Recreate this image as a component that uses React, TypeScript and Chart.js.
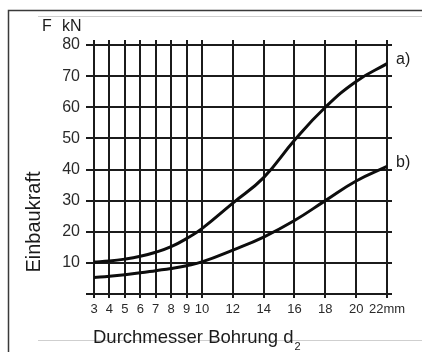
import React, { useEffect, useRef } from "react";
import { Chart, registerables } from "chart.js";

Chart.register(...registerables);

// ---- data ----
const BORE_SIZES = [3, 4, 5, 6, 7, 8, 9, 10, 12, 14, 16, 18, 20, 22];
const FORCE_A = [10.3, 10.6, 11.2, 12.1, 13.4, 15.2, 17.8, 21.0, 29.2, 37.4, 49.4, 60.0, 68.3, 74.0];
const FORCE_B = [5.3, 5.7, 6.2, 6.8, 7.5, 8.2, 9.1, 10.3, 14.1, 18.3, 23.6, 30.0, 36.3, 41.0];
const SERIES_LABELS = ["a)", "b)"];
const Y_TICKS = [0, 10, 20, 30, 40, 50, 60, 70, 80];
const X_UNIT = "mm";
const Y_UNIT_TEXT = ["F", "kN"];
const Y_TITLE = "Einbaukraft";
const X_TITLE = "Durchmesser Bohrung d";
const X_TITLE_SUB = "2";

const FONT = '"Liberation Sans", Arial, Helvetica, sans-serif';
const INK = "#1b1b1b";

const decorPlugin = {
  id: "decor",
  beforeDraw(chart: any) {
    const ctx = chart.ctx;
    ctx.save();
    ctx.fillStyle = "#ffffff";
    ctx.fillRect(0, 0, chart.width, chart.height);
    // frame
    ctx.strokeStyle = "#3a3a3a";
    ctx.lineWidth = 1.5;
    ctx.beginPath();
    ctx.moveTo(8.5, 352);
    ctx.lineTo(8.5, 10.5);
    ctx.lineTo(422, 10.5);
    ctx.stroke();
    ctx.strokeStyle = "#cfcfcf";
    ctx.lineWidth = 1;
    ctx.beginPath();
    ctx.moveTo(38, 16.5);
    ctx.lineTo(422, 16.5);
    ctx.moveTo(38, 340.5);
    ctx.lineTo(422, 340.5);
    ctx.stroke();
    ctx.restore();
  },
  afterDraw(chart: any) {
    const ctx = chart.ctx;
    const xs = chart.scales.x;
    const ys = chart.scales.y;
    ctx.save();
    ctx.fillStyle = INK;
    ctx.textAlign = "left";
    ctx.textBaseline = "alphabetic";
    ctx.font = `16px ${FONT}`;
    ctx.fillText(Y_UNIT_TEXT[0], 42, 31);
    ctx.fillText(Y_UNIT_TEXT[1], 62, 31);

    // series labels at the end of each curve
    const series = [FORCE_A, FORCE_B];
    ctx.font = `16px ${FONT}`;
    ctx.textBaseline = "middle";
    series.forEach((vals, i) => {
      const last = BORE_SIZES.length - 1;
      const px = xs.getPixelForValue(BORE_SIZES[last]) + 9;
      const py = ys.getPixelForValue(vals[last]) - 4;
      ctx.fillText(SERIES_LABELS[i], px, py);
    });

    // x title
    ctx.textBaseline = "alphabetic";
    ctx.font = `18.5px ${FONT}`;
    ctx.fillText(X_TITLE, 93, 343);
    const w = ctx.measureText(X_TITLE).width;
    ctx.font = `11px ${FONT}`;
    ctx.fillText(X_TITLE_SUB, 93 + w + 1, 350);

    // y title
    ctx.font = `20px ${FONT}`;
    ctx.translate(40, 222);
    ctx.rotate(-Math.PI / 2);
    ctx.textAlign = "center";
    ctx.fillText(Y_TITLE, 0, 0);
    ctx.restore();
  },
};

export default function App() {
  const ref = useRef<HTMLCanvasElement | null>(null);

  useEffect(() => {
    if (!ref.current) return;
    const xMin = BORE_SIZES[0];
    const xMax = BORE_SIZES[BORE_SIZES.length - 1];
    const yMin = Y_TICKS[0];
    const yMax = Y_TICKS[Y_TICKS.length - 1];
    const setXTicks = (s: any) => {
      s.ticks = BORE_SIZES.map((v) => ({ value: v }));
    };
    const setYTicks = (s: any) => {
      s.ticks = Y_TICKS.map((v) => ({ value: v }));
    };
    const grid = (tickLength: number, onArea: boolean) => ({
      color: INK,
      lineWidth: 2,
      drawOnChartArea: onArea,
      drawTicks: true,
      tickLength,
      tickColor: INK,
      tickWidth: 2,
    });
    const border = { display: true, color: INK, width: 2 };

    const chart = new Chart(ref.current, {
      type: "line",
      data: {
        datasets: [FORCE_A, FORCE_B].map((vals, i) => ({
          label: SERIES_LABELS[i],
          data: BORE_SIZES.map((x, j) => ({ x, y: vals[j] })),
          borderColor: "#0d0d0d",
          borderWidth: 3,
          pointRadius: 0,
          fill: false,
          tension: 0.45,
        })),
      },
      options: {
        animation: false,
        responsive: false,
        devicePixelRatio: 1,
        layout: { padding: 0 },
        plugins: {
          legend: { display: false },
          tooltip: { enabled: false },
        },
        scales: {
          x: {
            type: "linear",
            position: "bottom",
            min: xMin,
            max: xMax,
            afterBuildTicks: setXTicks,
            afterFit: (s: any) => {
              s.height = 58;
            },
            grid: grid(4, true),
            border,
            ticks: {
              autoSkip: false,
              maxRotation: 0,
              padding: 4,
              color: "#2a2a2a",
              font: { family: FONT, size: 13 },
              callback: (v: any) => (Number(v) === xMax ? `${v}${X_UNIT}` : `${v}`),
            },
          },
          x2: {
            type: "linear",
            position: "top",
            min: xMin,
            max: xMax,
            afterBuildTicks: setXTicks,
            afterFit: (s: any) => {
              s.height = 45;
            },
            grid: grid(5, false),
            border,
            ticks: { display: false },
          },
          y: {
            type: "linear",
            position: "left",
            min: yMin,
            max: yMax,
            afterBuildTicks: setYTicks,
            afterFit: (s: any) => {
              s.width = 94;
            },
            grid: grid(8, true),
            border,
            ticks: {
              padding: 6,
              color: "#2a2a2a",
              font: { family: FONT, size: 16 },
              callback: (v: any) => (Number(v) === 0 ? "" : `${v}`),
            },
          },
          y2: {
            type: "linear",
            position: "right",
            min: yMin,
            max: yMax,
            afterBuildTicks: setYTicks,
            afterFit: (s: any) => {
              s.width = 35;
            },
            grid: grid(5, false),
            border,
            ticks: { display: false },
          },
        },
      },
      plugins: [decorPlugin],
    });
    return () => chart.destroy();
  }, []);

  return (
    <div style={{ position: "fixed", left: 0, top: 0, width: 422, height: 352 }}>
      <canvas ref={ref} width={422} height={352} style={{ display: "block" }} />
    </div>
  );
}
